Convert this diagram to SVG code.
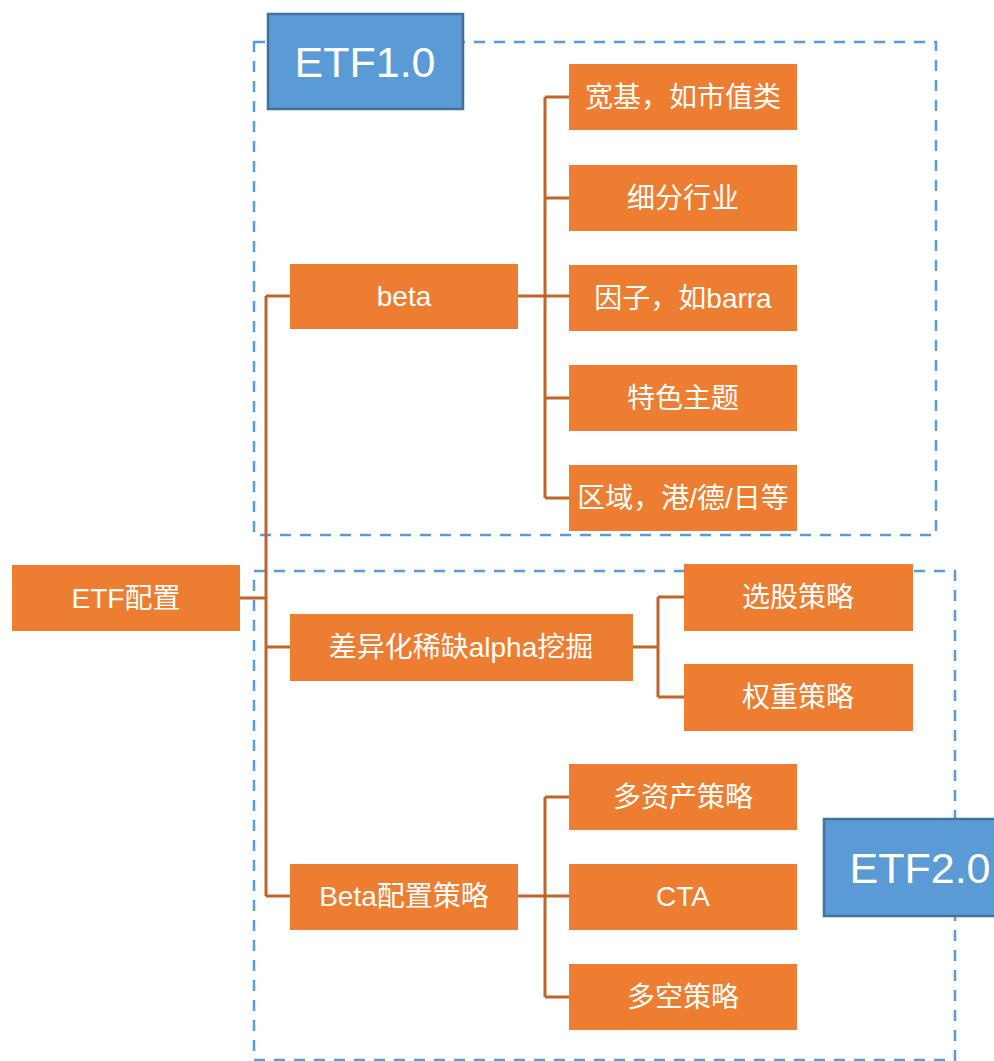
<svg xmlns="http://www.w3.org/2000/svg" width="994" height="1061" viewBox="0 0 994 1061">
<style>
.n{fill:#ED7D31}
.t{fill:#fff;font-family:"Liberation Sans","Noto Sans CJK SC",sans-serif;font-size:28px;text-anchor:middle;dominant-baseline:central}
.c{stroke:#C0652A;stroke-width:3;fill:none}
.d{stroke:#5B9BD5;stroke-width:2.5;fill:none;stroke-dasharray:11 9}
.b{fill:#5B9BD5;stroke:#41719C;stroke-width:2.5}
.bt{fill:#fff;font-family:"Liberation Sans","Noto Sans CJK SC",sans-serif;font-size:43px;text-anchor:middle;dominant-baseline:central}
</style>
<rect width="994" height="1061" fill="#fff"/>
<g id="frames">
<rect class="d" x="254" y="42" width="682" height="493"/>
<rect class="d" x="254" y="571" width="701" height="489"/>
</g>
<g id="connectors">
<path class="c" d="M240 598H266M266 296V896M266 296H290M266 647H290M266 896H290"/>
<path class="c" d="M518 296H569M545 97V498M545 97H569M545 198H569M545 398H569M545 498H569"/>
<path class="c" d="M633 647H658M658 597V697M658 597H684M658 697H684"/>
<path class="c" d="M518 896H569M545 797V997M545 797H569M545 997H569"/>
</g>
<g id="root"><rect class="n" x="12" y="565" width="228" height="66"/><text class="t" x="126" y="598">ETF配置</text></g>
<g id="beta"><rect class="n" x="290" y="264" width="228" height="65"/><text class="t" x="404" y="296">beta</text></g>
<g id="b1"><rect class="n" x="569" y="64" width="228" height="66"/><text class="t" x="683" y="97">宽基，如市值类</text></g>
<g id="b2"><rect class="n" x="569" y="165" width="228" height="66"/><text class="t" x="683" y="198">细分行业</text></g>
<g id="b3"><rect class="n" x="569" y="265" width="228" height="66"/><text class="t" x="683" y="298">因子，如barra</text></g>
<g id="b4"><rect class="n" x="569" y="365" width="228" height="66"/><text class="t" x="683" y="398">特色主题</text></g>
<g id="b5"><rect class="n" x="569" y="465" width="228" height="66"/><text class="t" x="683" y="498">区域，港/德/日等</text></g>
<g id="alpha"><rect class="n" x="290" y="614" width="343" height="67"/><text class="t" x="461" y="647">差异化稀缺alpha挖掘</text></g>
<g id="a1"><rect class="n" x="684" y="564" width="229" height="67"/><text class="t" x="798" y="597">选股策略</text></g>
<g id="a2"><rect class="n" x="684" y="664" width="229" height="67"/><text class="t" x="798" y="697">权重策略</text></g>
<g id="bcfg"><rect class="n" x="290" y="864" width="228" height="66"/><text class="t" x="404" y="896">Beta配置策略</text></g>
<g id="c1"><rect class="n" x="569" y="764" width="228" height="66"/><text class="t" x="683" y="797">多资产策略</text></g>
<g id="c2"><rect class="n" x="569" y="864" width="228" height="66"/><text class="t" x="683" y="896">CTA</text></g>
<g id="c3"><rect class="n" x="569" y="964" width="228" height="66"/><text class="t" x="683" y="997">多空策略</text></g>
<g id="etf1"><rect class="b" x="268" y="14" width="195" height="95"/><text class="bt" x="365" y="62">ETF1.0</text></g>
<g id="etf2"><rect class="b" x="824" y="819" width="180" height="97"/><text class="bt" x="920" y="868">ETF2.0</text></g>
</svg>
